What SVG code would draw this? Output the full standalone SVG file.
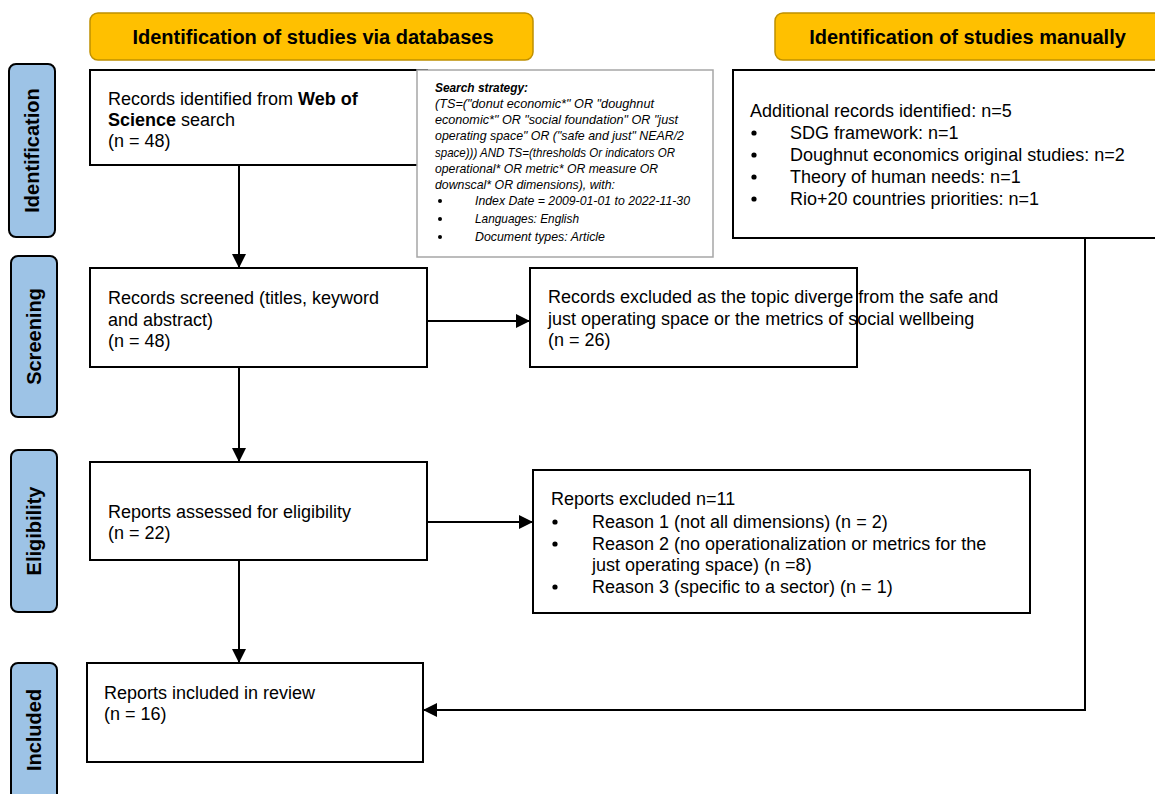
<svg xmlns="http://www.w3.org/2000/svg" width="1155" height="794" viewBox="0 0 1155 794">
<defs>
<style>
.hdr{fill:#FFC000;stroke:#BF9000;stroke-width:1.5}
.phase{fill:#9DC3E6;stroke:#000;stroke-width:2}
.box{fill:#fff;stroke:#000;stroke-width:2}
.sbox{fill:#fff;stroke:#A6A6A6;stroke-width:1.5}
.t{font-family:"Liberation Sans",Arial,sans-serif;font-size:18px;fill:#000}
.hb{font-family:"Liberation Sans",Arial,sans-serif;font-size:20px;font-weight:bold;fill:#000}
.s{font-family:"Liberation Sans",Arial,sans-serif;font-size:12.4px;font-style:italic;fill:#000}
.conn{fill:none;stroke:#000;stroke-width:2}
</style>
<marker id="arrb" viewBox="0 0 10 10" refX="10" refY="5" markerWidth="14" markerHeight="14" markerUnits="userSpaceOnUse" orient="auto">
<path d="M0,0 L10,5 L0,10 z" fill="#000"/>
</marker>
</defs>

<g id="header-databases">
<rect class="hdr" x="90" y="13" width="443" height="47" rx="8"/>
<text class="hb" x="313" y="44" text-anchor="middle">Identification of studies via databases</text>
</g>
<g id="header-manual">
<rect class="hdr" x="775" y="13" width="395" height="47" rx="8"/>
<text class="hb" x="967.5" y="44" text-anchor="middle">Identification of studies manually</text>
</g>

<g id="phase-identification">
<rect class="phase" x="9" y="64" width="46" height="173" rx="7"/>
<text class="hb" transform="translate(39,150.5) rotate(-90)" text-anchor="middle">Identification</text>
</g>
<g id="phase-screening">
<rect class="phase" x="11" y="256" width="46" height="161" rx="7"/>
<text class="hb" transform="translate(41,336.5) rotate(-90)" text-anchor="middle">Screening</text>
</g>
<g id="phase-eligibility">
<rect class="phase" x="11" y="450" width="46" height="162" rx="7"/>
<text class="hb" transform="translate(41,531) rotate(-90)" text-anchor="middle">Eligibility</text>
</g>
<g id="phase-included">
<rect class="phase" x="11" y="663" width="46" height="140" rx="7"/>
<text class="hb" transform="translate(41,730) rotate(-90)" text-anchor="middle">Included</text>
</g>

<g id="records-identified">
<rect class="box" x="90" y="70" width="337" height="95"/>
<text class="t" x="108" y="105">Records identified from <tspan font-weight="bold">Web of</tspan></text>
<text class="t" x="108" y="126"><tspan font-weight="bold">Science</tspan> search</text>
<text class="t" x="108" y="147">(n = 48)</text>
</g>

<g id="search-strategy">
<rect class="sbox" x="417" y="70" width="296" height="187"/>
<text class="s" x="435" y="92" font-weight="bold" textLength="93" lengthAdjust="spacingAndGlyphs">Search strategy:</text>
<text class="s" x="435" y="108" textLength="219" lengthAdjust="spacingAndGlyphs">(TS=("donut economic*" OR "doughnut</text>
<text class="s" x="435" y="124" textLength="243" lengthAdjust="spacingAndGlyphs">economic*" OR "social foundation" OR "just</text>
<text class="s" x="435" y="140" textLength="249" lengthAdjust="spacingAndGlyphs">operating space" OR ("safe and just" NEAR/2</text>
<text class="s" x="435" y="157" textLength="240" lengthAdjust="spacingAndGlyphs">space))) AND TS=(thresholds Or indicators OR</text>
<text class="s" x="435" y="173" textLength="223" lengthAdjust="spacingAndGlyphs">operational* OR metric* OR measure OR</text>
<text class="s" x="435" y="189" textLength="180" lengthAdjust="spacingAndGlyphs">downscal* OR dimensions), with:</text>
<circle cx="440" cy="201" r="2" fill="#000"/>
<text class="s" x="475" y="205" textLength="215" lengthAdjust="spacingAndGlyphs">Index Date = 2009-01-01 to 2022-11-30</text>
<circle cx="440" cy="219" r="2" fill="#000"/>
<text class="s" x="475" y="223" textLength="104" lengthAdjust="spacingAndGlyphs">Languages: English</text>
<circle cx="440" cy="237" r="2" fill="#000"/>
<text class="s" x="475" y="241" textLength="130" lengthAdjust="spacingAndGlyphs">Document types: Article</text>
</g>

<g id="additional-records">
<rect class="box" x="733" y="70" width="430" height="168"/>
<text class="t" x="750" y="117">Additional records identified: n=5</text>
<circle cx="754" cy="133" r="2.6" fill="#000"/>
<text class="t" x="790" y="139">SDG framework: n=1</text>
<circle cx="754" cy="155" r="2.6" fill="#000"/>
<text class="t" x="790" y="161">Doughnut economics original studies: n=2</text>
<circle cx="754" cy="177" r="2.6" fill="#000"/>
<text class="t" x="790" y="183">Theory of human needs: n=1</text>
<circle cx="754" cy="199" r="2.6" fill="#000"/>
<text class="t" x="790" y="205">Rio+20 countries priorities: n=1</text>
</g>

<g id="records-screened">
<rect class="box" x="90" y="268" width="337" height="99"/>
<text class="t" x="108" y="304">Records screened (titles, keyword</text>
<text class="t" x="108" y="326">and abstract)</text>
<text class="t" x="108" y="347">(n = 48)</text>
</g>

<g id="records-excluded">
<rect class="box" x="530" y="268" width="327" height="99"/>
<text class="t" x="548" y="303">Records excluded as the topic diverge from the safe and</text>
<text class="t" x="548" y="325">just operating space or the metrics of social wellbeing</text>
<text class="t" x="548" y="346">(n = 26)</text>
</g>

<g id="reports-assessed">
<rect class="box" x="90" y="462" width="337" height="98"/>
<text class="t" x="108" y="518">Reports assessed for eligibility</text>
<text class="t" x="108" y="539">(n = 22)</text>
</g>

<g id="reports-excluded">
<rect class="box" x="533" y="470" width="497" height="143"/>
<text class="t" x="551" y="505">Reports excluded n=11</text>
<circle cx="555" cy="522" r="2.6" fill="#000"/>
<text class="t" x="592" y="528">Reason 1 (not all dimensions) (n = 2)</text>
<circle cx="555" cy="544" r="2.6" fill="#000"/>
<text class="t" x="592" y="550">Reason 2 (no operationalization or metrics for the</text>
<text class="t" x="592" y="571">just operating space) (n =8)</text>
<circle cx="555" cy="587" r="2.6" fill="#000"/>
<text class="t" x="592" y="593">Reason 3 (specific to a sector) (n = 1)</text>
</g>

<g id="reports-included">
<rect class="box" x="87" y="663" width="336" height="99"/>
<text class="t" x="104" y="699">Reports included in review</text>
<text class="t" x="104" y="720">(n = 16)</text>
</g>

<g id="connectors">
<line class="conn" x1="239" y1="165" x2="239" y2="268" marker-end="url(#arrb)"/>
<line class="conn" x1="239" y1="367" x2="239" y2="462" marker-end="url(#arrb)"/>
<line class="conn" x1="239" y1="560" x2="239" y2="663" marker-end="url(#arrb)"/>
<line class="conn" x1="427" y1="321" x2="530" y2="321" marker-end="url(#arrb)"/>
<line class="conn" x1="427" y1="522" x2="533" y2="522" marker-end="url(#arrb)"/>
<polyline class="conn" points="1085,238 1085,710 423,710" marker-end="url(#arrb)"/>
</g>
</svg>
